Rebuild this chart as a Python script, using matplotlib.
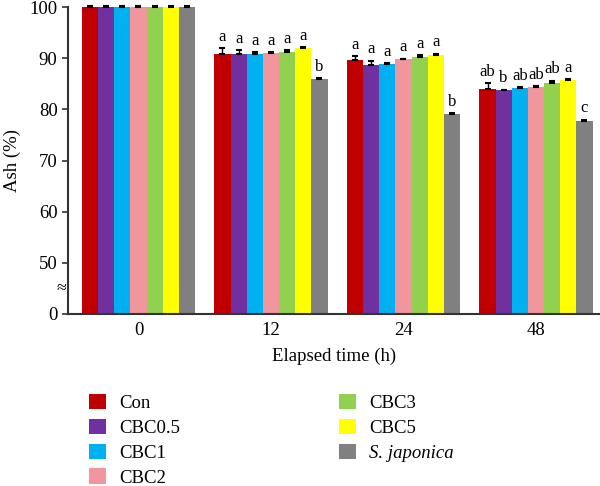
import matplotlib
matplotlib.use('Agg')
import matplotlib.pyplot as plt
import numpy as np

plt.rcParams['font.family'] = ['Liberation Serif', 'DejaVu Serif']

times = ['0', '12', '24', '48']
groups = ['Con', 'CBC0.5', 'CBC1', 'CBC2', 'CBC3', 'CBC5', 'S. japonica']
colors = ['#C00000', '#7030A0', '#00B0F0', '#F0969C', '#92D050', '#FFFF00', '#808080']

# rows = treatment, columns = elapsed time
ash = [
    [100, 90.8, 89.6, 83.9],
    [100, 90.8, 88.7, 83.7],
    [100, 90.9, 88.8, 84.1],
    [100, 91.0, 89.8, 84.4],
    [100, 91.3, 90.2, 85.2],
    [100, 91.9, 90.6, 85.7],
    [100, 85.9, 79.0, 77.8],
]
err = [
    [0.1, 1.1, 0.8, 1.2],
    [0.1, 0.7, 0.8, 0.1],
    [0.1, 0.3, 0.2, 0.2],
    [0.1, 0.2, 0.1, 0.1],
    [0.1, 0.2, 0.4, 0.4],
    [0.1, 0.2, 0.3, 0.2],
    [0.1, 0.2, 0.2, 0.2],
]
letters = [
    ['', 'a', 'a', 'ab'],
    ['', 'a', 'a', 'b'],
    ['', 'a', 'a', 'ab'],
    ['', 'a', 'a', 'ab'],
    ['', 'a', 'a', 'ab'],
    ['', 'a', 'a', 'a'],
    ['', 'b', 'b', 'c'],
]

fig = plt.figure(figsize=(6, 4.86), dpi=100)
ax = fig.add_axes([68/600, 1-314/486, 532/600, 307/486])

x = np.arange(len(times))
w = 0.122
for i, g in enumerate(groups):
    xs = x + (i - 3) * w
    vals = np.array(ash[i])
    e = np.array(err[i])
    ax.bar(xs, vals, w, color=colors[i], label=g, zorder=2)
    ax.errorbar(xs, vals, yerr=[np.zeros_like(e), e], fmt='none', ecolor='black',
                elinewidth=1, capsize=2.5, capthick=1.5, zorder=3, clip_on=False)
    for j in range(len(times)):
        if letters[i][j]:
            ax.annotate(letters[i][j], (xs[j], vals[j] + e[j]), xytext=(0, 2.5),
                        textcoords='offset points', ha='center', va='bottom', fontsize=12)

ax.set_ylim(40, 100)
ax.set_xlim(-0.532, 3.483)
ax.set_yticks([40, 50, 60, 70, 80, 90, 100])
ax.set_yticklabels(['0', '50', '60', '70', '80', '90', '100'])
ax.set_xticks(x)
ax.set_xticklabels(times)
ax.tick_params(axis='x', length=0, labelsize=13.5, pad=6)
ax.tick_params(axis='y', length=4, width=1.2, labelsize=13.5, color='#333333')
ax.spines['top'].set_visible(False)
ax.spines['right'].set_visible(False)
for s in ['left', 'bottom']:
    ax.spines[s].set_linewidth(1.5)
    ax.spines[s].set_color('#333333')
ax.text(-0.012, 45, '≈', transform=ax.get_yaxis_transform(), ha='center', va='center',
        fontsize=13, bbox=dict(facecolor='white', edgecolor='none', pad=0.3))

ax.set_xlabel('Elapsed time (h)', fontsize=13.5, labelpad=6)
ax.set_ylabel('Ash (%)', fontsize=13.5, labelpad=6)

handles, labels = ax.get_legend_handles_labels()
leg = fig.legend(handles, labels, ncol=2, loc='upper left', bbox_to_anchor=(72/600, 1-377/486),
                 frameon=False, fontsize=13.5, handlelength=0.9, handleheight=0.9,
                 handletextpad=0.7, columnspacing=8.5, labelspacing=0.35)
leg.get_texts()[-1].set_fontstyle('italic')

fig.savefig('out.png', dpi=100)
